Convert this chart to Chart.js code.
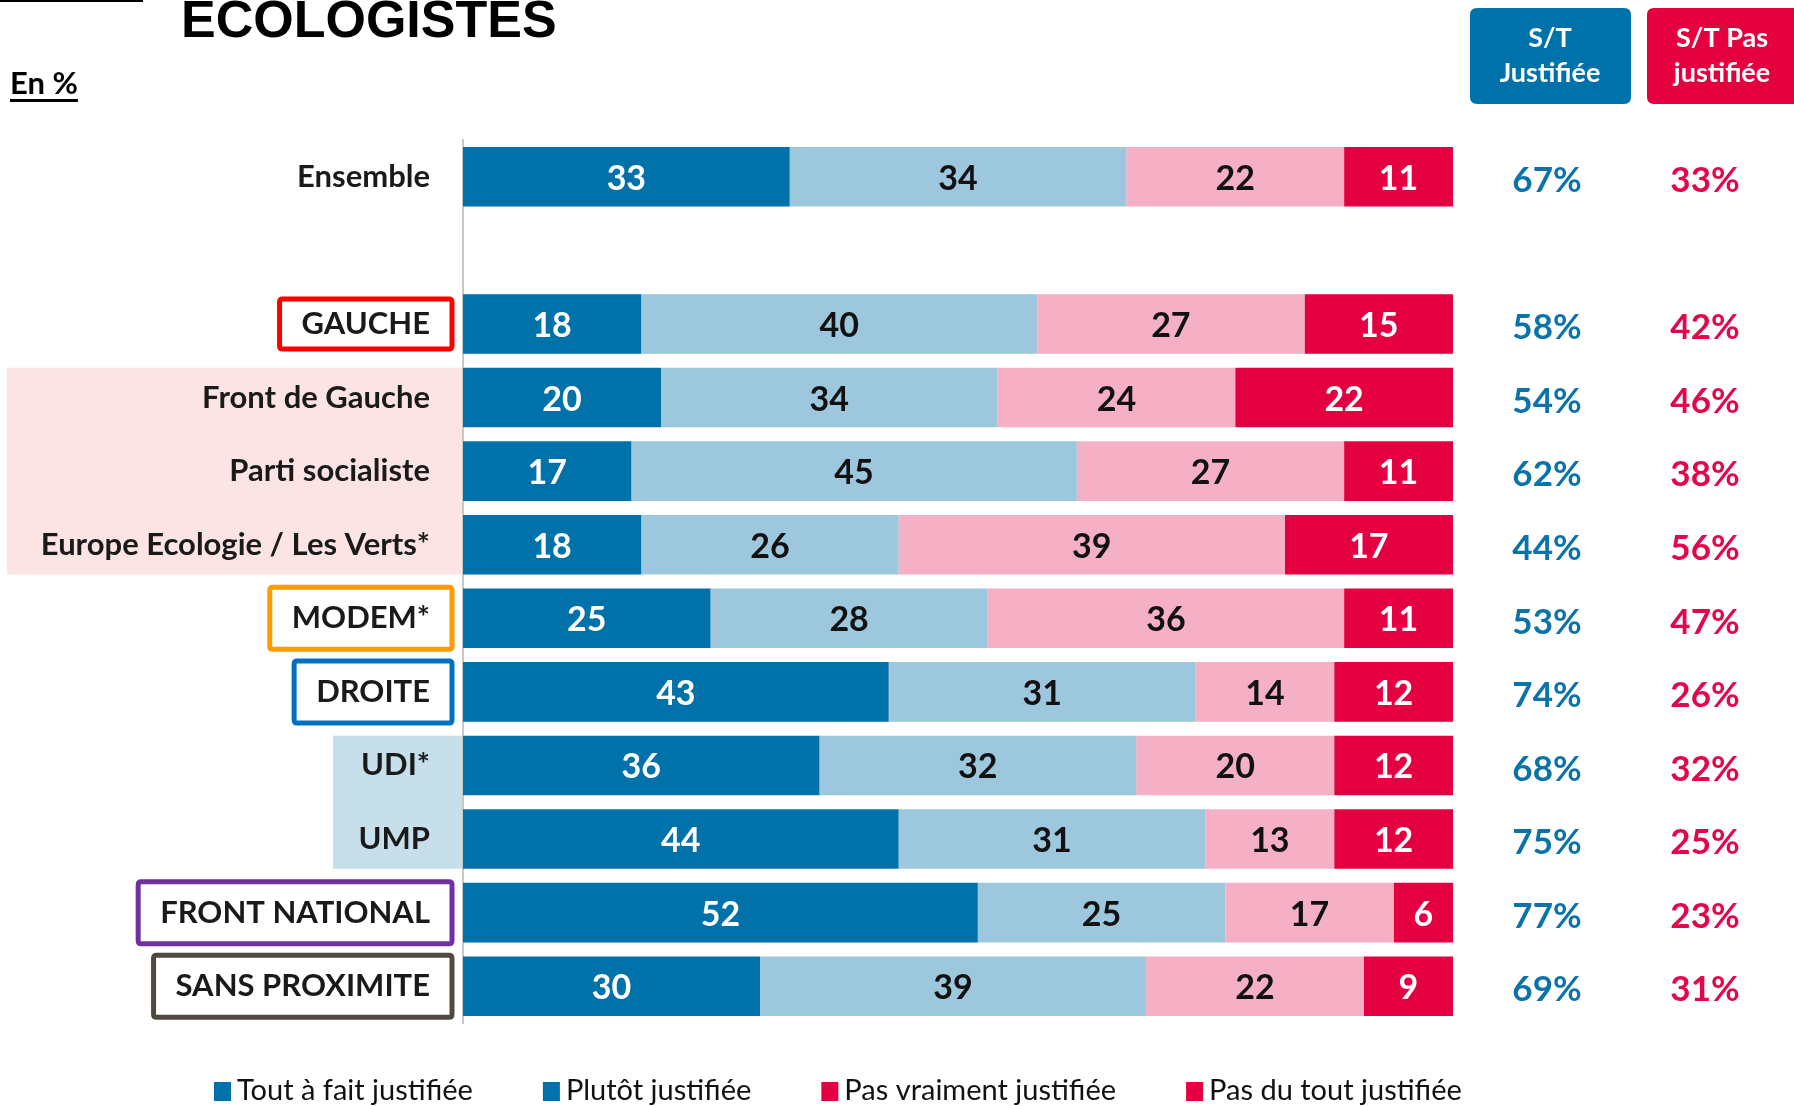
<!DOCTYPE html>
<html lang="fr">
<head>
<meta charset="utf-8">
<title>Ecologistes</title>
<script src="https://cdn.jsdelivr.net/npm/chart.js@4.4.1/dist/chart.umd.min.js"></script>
<style>
    html, body { margin: 0; padding: 0; background: #fff; }
    #wrap { width: 1794px; height: 1106px; }
</style>
</head>
<body>
<div id="wrap"><canvas id="chart" width="1794" height="1106"></canvas></div>
<script>
// categories (the empty one is the gap under "Ensemble")
const categories = ['Ensemble', '', 'GAUCHE', 'Front de Gauche', 'Parti socialiste', 'Europe Ecologie / Les Verts*', 'MODEM*', 'DROITE', 'UDI*', 'UMP', 'FRONT NATIONAL', 'SANS PROXIMITE'];

const toutAFait   = [33, null, 18, 20, 17, 18, 25, 43, 36, 44, 52, 30];
const plutot      = [34, null, 40, 34, 45, 26, 28, 31, 32, 31, 25, 39];
const pasVraiment = [22, null, 27, 24, 27, 39, 36, 14, 20, 13, 17, 22];
const pasDuTout   = [11, null, 15, 22, 11, 17, 11, 12, 12, 12, 6, 9];

// right hand columns
const stJustifiee    = [67, null, 58, 54, 62, 44, 53, 74, 68, 75, 77, 69];
const stPasJustifiee = [33, null, 42, 46, 38, 56, 47, 26, 32, 25, 23, 31];

const seriesLabels = ['Tout à fait justifiée', 'Plutôt justifiée', 'Pas vraiment justifiée', 'Pas du tout justifiée'];

const DARK_BLUE = '#0071a9';
const LIGHT_BLUE = '#9dc7dd';
const PINK = '#f6b0c6';
const RED = '#e40040';

const barColors = [DARK_BLUE, LIGHT_BLUE, PINK, RED];
const valueColors = ['#ffffff', '#111111', '#111111', '#ffffff'];
// the legend in the original only uses two colours
const legendColors = [DARK_BLUE, DARK_BLUE, RED, RED];

// framed group labels
const framed = {
    'GAUCHE': { color: '#ff0000', h: 50 },
    'MODEM*': { color: '#ff9a00', h: 62 },
    'DROITE': { color: '#0070c0', h: 62 },
    'FRONT NATIONAL': { color: '#7030a0', h: 62 },
    'SANS PROXIMITE': { color: '#4f4940', h: 62 }
};

function roundRect(ctx, x, y, w, h, r) {
    ctx.beginPath();
    ctx.moveTo(x + r, y);
    ctx.lineTo(x + w - r, y);
    ctx.quadraticCurveTo(x + w, y, x + w, y + r);
    ctx.lineTo(x + w, y + h - r);
    ctx.quadraticCurveTo(x + w, y + h, x + w - r, y + h);
    ctx.lineTo(x + r, y + h);
    ctx.quadraticCurveTo(x, y + h, x, y + h - r);
    ctx.lineTo(x, y + r);
    ctx.quadraticCurveTo(x, y, x + r, y);
    ctx.closePath();
}

const decor = {
    id: 'decor',
    beforeDraw(chart) {
        const ctx = chart.ctx;
        const area = chart.chartArea;
        ctx.save();
        ctx.fillStyle = '#ffffff';
        ctx.fillRect(0, 0, chart.width, chart.height);

        // shaded bands behind the party labels
        const bars = chart.getDatasetMeta(0).data;
        const band = (from, to, x0, color) => {
            const top = bars[from].y - bars[from].height / 2;
            const bottom = bars[to].y + bars[to].height / 2;
            ctx.fillStyle = color;
            ctx.fillRect(x0, top, area.left - x0, bottom - top);
        };
        band(3, 5, 7, '#fde4e4');
        band(8, 9, 333, '#c6dfeb');
        ctx.restore();
    },
    afterDatasetsDraw(chart) {
        const ctx = chart.ctx;
        ctx.save();
        ctx.font = 'bold 34px Lato';
        ctx.textAlign = 'center';
        ctx.textBaseline = 'middle';
        chart.data.datasets.forEach((ds, di) => {
            const meta = chart.getDatasetMeta(di);
            meta.data.forEach((el, i) => {
                if (ds.data[i] == null) return;
                const c = el.getCenterPoint();
                ctx.fillStyle = valueColors[di];
                ctx.fillText(String(ds.data[i]), c.x, c.y + 2);
            });
        });
        ctx.restore();
    },
    afterDraw(chart) {
        const ctx = chart.ctx;
        const y = chart.scales.y;
        ctx.save();

        // category labels
        ctx.textBaseline = 'middle';
        categories.forEach((cat, i) => {
            if (!cat) return;
            const py = y.getPixelForValue(i);
            ctx.font = 'bold 31px Lato';
            ctx.textAlign = 'right';
            ctx.fillStyle = '#1a1a1a';
            const tx = 430;
            ctx.fillText(cat, tx, py);
            const f = framed[cat];
            if (f) {
                const w = ctx.measureText(cat).width;
                const right = 452;
                const left = tx - w - 22;
                ctx.strokeStyle = f.color;
                ctx.lineWidth = 5;
                roundRect(ctx, left, py - f.h / 2, right - left, f.h, 3);
                ctx.stroke();
            }
        });

        // S/T columns
        ctx.font = 'bold 35px Lato';
        ctx.textAlign = 'center';
        categories.forEach((cat, i) => {
            if (stJustifiee[i] == null) return;
            const py = y.getPixelForValue(i) + 4;
            ctx.fillStyle = '#0a73aa';
            ctx.fillText(stJustifiee[i] + '%', 1547, py);
            ctx.fillStyle = '#e5054a';
            ctx.fillText(stPasJustifiee[i] + '%', 1705, py);
        });

        // header boxes
        ctx.fillStyle = '#0072aa';
        roundRect(ctx, 1470, 8, 161, 96, 7);
        ctx.fill();
        ctx.fillStyle = '#e4003f';
        roundRect(ctx, 1647, 8, 170, 96, 7);
        ctx.fill();
        ctx.fillStyle = '#ffffff';
        ctx.font = 'bold 27px Lato';
        ctx.fillText('S/T', 1550, 38);
        ctx.fillText('Justifiée', 1550, 73);
        ctx.fillText('S/T Pas', 1722, 38);
        ctx.fillText('justifiée', 1722, 73);

        // title (cut at the top like the original)
        ctx.fillStyle = '#000000';
        ctx.textAlign = 'left';
        ctx.textBaseline = 'alphabetic';
        ctx.font = 'bold 52px "Liberation Sans"';
        ctx.fillText('ECOLOGISTES', 181, 37);
        ctx.fillRect(0, 0, 143, 2);

        // "En %"
        ctx.font = 'bold 31px Lato';
        ctx.fillText('En %', 10, 94);
        const enW = ctx.measureText('En %').width;
        ctx.fillRect(10, 99, enW, 3);

        // legend
        ctx.font = '29px Lato';
        ctx.textBaseline = 'middle';
        let lx = 214;
        const ly = 1091;
        seriesLabels.forEach((lab, i) => {
            ctx.fillStyle = legendColors[i];
            ctx.fillRect(lx, ly - 9, 17, 19);
            ctx.fillStyle = '#111111';
            ctx.fillText(lab, lx + 23, ly);
            lx += 23 + ctx.measureText(lab).width + 70;
        });

        ctx.restore();
    }
};

const datasets = [toutAFait, plutot, pasVraiment, pasDuTout].map((vals, i) => ({
    label: seriesLabels[i],
    data: vals,
    backgroundColor: barColors[i],
    borderWidth: 0,
    barPercentage: 0.81,
    categoryPercentage: 1.0
}));

new Chart(document.getElementById('chart').getContext('2d'), {
    type: 'bar',
    data: { labels: categories, datasets: datasets },
    options: {
        indexAxis: 'y',
        responsive: false,
        animation: false,
        layout: { padding: { left: 463, right: 341, top: 140, bottom: 83 } },
        plugins: {
            legend: { display: false },
            tooltip: { enabled: false }
        },
        scales: {
            x: {
                stacked: true,
                min: 0,
                max: 100,
                display: false
            },
            y: {
                stacked: true,
                grid: { display: false },
                ticks: { display: false },
                border: { display: true, color: '#c8c8c8', width: 2 },
                afterFit(scale) { scale.width = 0; }
            }
        }
    },
    plugins: [decor]
});
</script>
</body>
</html>
